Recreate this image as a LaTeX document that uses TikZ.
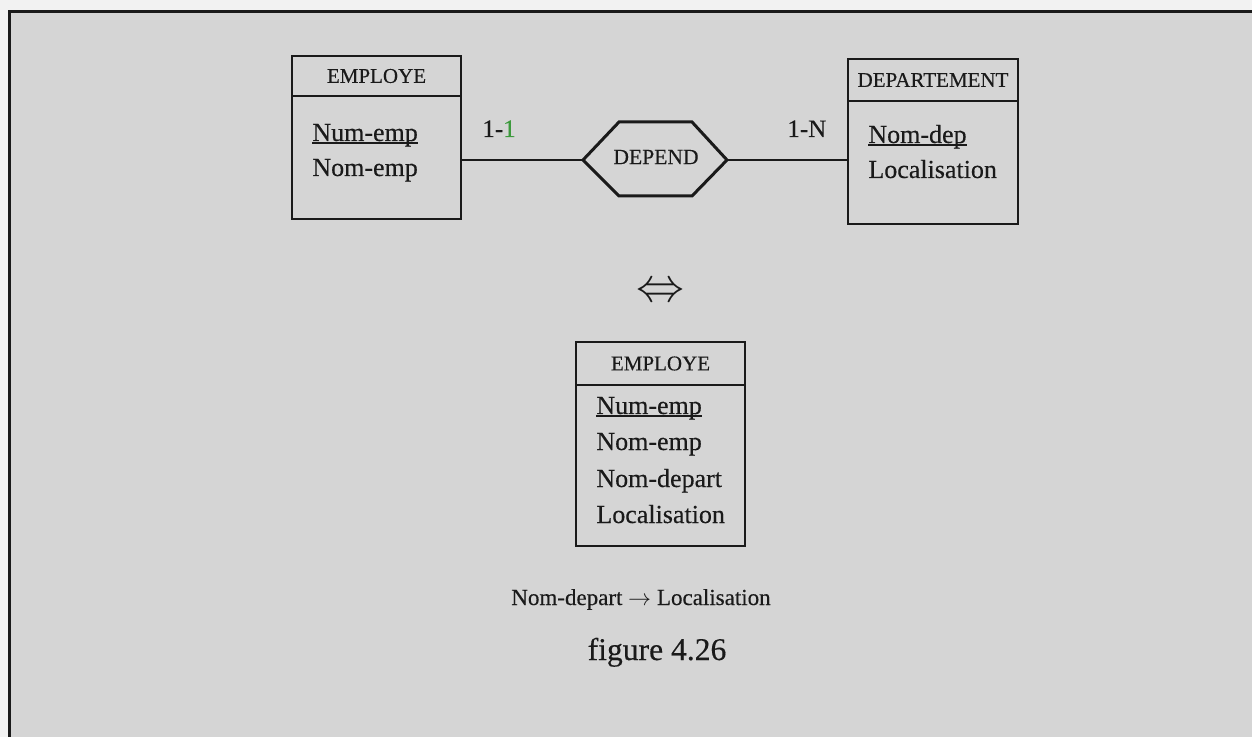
\RequirePackage{fix-cm}
\documentclass[tikz,border=0pt]{standalone}
\usepackage{fontspec}
\setmainfont{Liberation Serif}[FakeBold=0.35]
\definecolor{ink}{HTML}{1A1A1A}
\definecolor{paper}{HTML}{D5D5D5}
\definecolor{margin}{HTML}{F2F2F2}
\definecolor{tint}{HTML}{3C9A3C}
% underlined key attribute: the rule sits just under the baseline
\newcommand\keyattr[1]{\leavevmode\setbox0\hbox{#1}\rlap{\rule[-1.4pt]{\wd0}{0.75pt}}\box0}
\begin{document}
\begin{tikzpicture}[x=0.5pt,y=-0.5pt,
  box/.style={draw=ink,line width=1.4pt,inner sep=0pt,outer sep=0pt,anchor=north west},
  head/.style={box,text=ink,font=\fontsize{10.5}{12}\selectfont},
  attr/.style={anchor=base west,inner sep=0pt,text=ink,font=\fontsize{13}{15}\selectfont},
  card/.style={anchor=base west,inner sep=0pt,text=ink,font=\fontsize{12.5}{15}\selectfont},
  link/.style={draw=ink,line width=1.3pt},
  hexa/.style={draw=ink,line width=1.5pt,line join=miter}]
\useasboundingbox (0,0) rectangle (1252,737);
\clip (0,0) rectangle (1252,737);

% page and frame
\fill[margin] (0,0) rectangle (1252,737);
\fill[paper] (9,12) rectangle (1260,745);
\draw[ink,line width=1.5pt] (9,745) |- (1260,12);

% entity EMPLOYE
\node[head,minimum width=84.5pt,minimum height=20pt] (e1h) at (292,56) {EMPLOYE};
\node[box,minimum width=84.5pt,minimum height=61.5pt] (e1b) at (292,96) {};
\node[attr] (e1a1) at (312,141) {\keyattr{Num-emp}};
\node[attr] (e1a2) at (312,176) {Nom-emp};

% entity DEPARTEMENT
\node[head,minimum width=85pt,minimum height=21pt] (d1h) at (848,59) {DEPARTEMENT};
\node[box,minimum width=85pt,minimum height=61.5pt] (d1b) at (848,101) {};
\node[attr] (d1a1) at (868,143) {\keyattr{Nom-dep}};
\node[attr] (d1a2) at (868,178) {Localisation};

% association DEPEND
\node[inner sep=0pt,text=ink,font=\fontsize{10.8}{12}\selectfont] (dep) at (656,157) {DEPEND};
\coordinate (depL) at (583,160);
\coordinate (depR) at (727,160);
\draw[hexa] (depL) -- (619,122) -- (692,122) -- (depR) -- (692,196) -- (619,196) -- cycle;

% links and cardinalities
\draw[link] (e1b.east |- depL) -- (depL);
\draw[link] (depR) -- (d1b.west |- depR);
\node[card] (c1) at (482,137) {1-\textcolor{tint}{1}};
\node[card] (c2) at (787,137) {1-N};

% equivalence
\node[inner sep=0pt,text=ink,font=\fontsize{24}{26}\selectfont] (eq) at (660,293) {$\Leftrightarrow$};

% merged entity EMPLOYE
\node[head,minimum width=84.5pt,minimum height=21.5pt] (e2h) at (576,342) {EMPLOYE};
\node[box,minimum width=84.5pt,minimum height=80.5pt] (e2b) at (576,385) {};
\node[attr] (e2a1) at (596,414) {\keyattr{Num-emp}};
\node[attr] (e2a2) at (596,450) {Nom-emp};
\node[attr] (e2a3) at (596,487) {Nom-depart};
\node[attr] (e2a4) at (596,523) {Localisation};

% functional dependency and caption
\node[anchor=base,inner sep=0pt,text=ink,font=\fontsize{11.5}{14}\selectfont] (fd) at (641,605) {Nom-depart $\rightarrow$ Localisation};
\node[anchor=base,inner sep=0pt,text=ink,font=\fontsize{15.8}{18}\selectfont] (cap) at (657,660) {figure 4.26};
\end{tikzpicture}
\end{document}
